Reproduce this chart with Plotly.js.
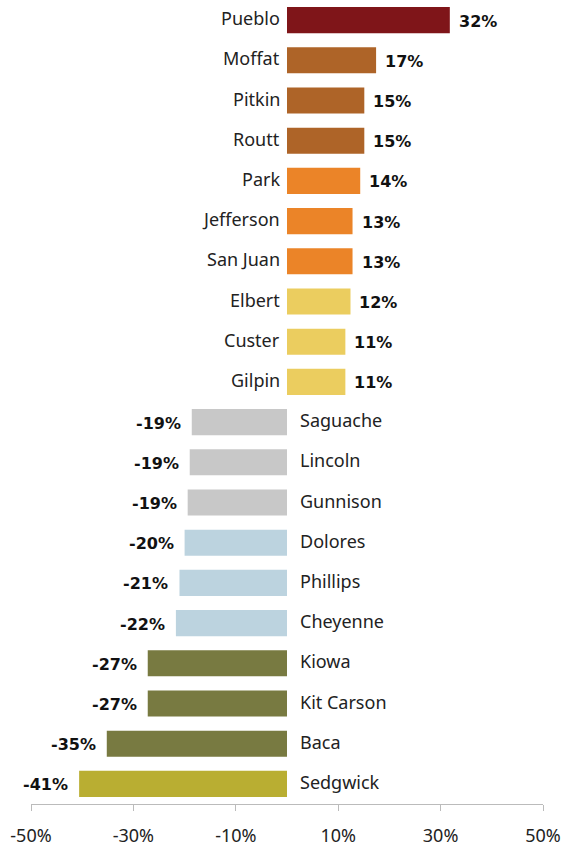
<!DOCTYPE html>
<html>
<head>
<meta charset="utf-8">
<script src="https://cdn.plot.ly/plotly-3.0.1.min.js"></script>
<style>html,body{margin:0;padding:0;background:#fff;}#chart{width:562px;height:848px;}</style>
</head>
<body>
<div id="chart"></div>
<script>
const counties = ["Pueblo","Moffat","Pitkin","Routt","Park","Jefferson","San Juan","Elbert","Custer","Gilpin",
  "Saguache","Lincoln","Gunnison","Dolores","Phillips","Cheyenne","Kiowa","Kit Carson","Baca","Sedgwick"];
const changePct = [31.8,17.4,15.1,15.1,14.3,12.8,12.8,12.4,11.4,11.4,
  -18.6,-19.0,-19.4,-20.0,-21.0,-21.7,-27.2,-27.2,-35.2,-40.6];
const barColors = ["#7f1519","#ae6428","#ae6428","#ae6428","#eb8428","#eb8428","#eb8428","#ebcd5f","#ebcd5f","#ebcd5f",
  "#c8c8c8","#c8c8c8","#c8c8c8","#bcd3df","#bcd3df","#bcd3df","#787a41","#787a41","#787a41","#b9ae32"];
const xTicks = [-50,-30,-10,10,30,50];

const catFont = {family:"Noto Sans, Open Sans, sans-serif", size:18, color:"#222"};
const valFont = {family:"DejaVu Sans, sans-serif", size:16, color:"#111", weight:"bold"};

const annotations = [];
counties.forEach((c,i)=>{
  const v = changePct[i];
  const pos = v >= 0;
  annotations.push({x:0, y:c, xref:'x', yref:'y', text:c, showarrow:false,
    xanchor: pos ? 'right' : 'left', xshift: pos ? -5 : 11, yshift:2, font:catFont});
  annotations.push({x:v, y:c, xref:'x', yref:'y', text:Math.round(v)+'%', showarrow:false,
    xanchor: pos ? 'left' : 'right', xshift: pos ? 7 : -9, yshift:-1, font:valFont});
});

const trace = {
  type:'bar', orientation:'h', x:changePct, y:counties,
  marker:{color:barColors, line:{width:0}}, hoverinfo:'none'
};

const layout = {
  width:562, height:848,
  margin:{l:31, r:19, t:0, b:44},
  paper_bgcolor:'#fff', plot_bgcolor:'#fff',
  showlegend:false,
  bargap:0.35,
  xaxis:{range:[-50,50], tickvals:xTicks, ticktext:xTicks.map(t=>t+'%'),
    showgrid:false, zeroline:false, showline:true, linecolor:'#bbb', linewidth:1,
    ticks:'outside', ticklen:6, tickcolor:'#bbb', tickwidth:1,
    ticklabelstandoff:9,
    tickfont:{family:"Noto Sans, Open Sans, sans-serif", size:18, color:"#222"}, fixedrange:true},
  yaxis:{type:'category', autorange:'reversed', showticklabels:false, showgrid:false,
    zeroline:false, showline:false, ticks:'', fixedrange:true},
  annotations:annotations
};

Plotly.newPlot('chart',[trace],layout,{displayModeBar:false, staticPlot:true});
</script>
</body>
</html>
